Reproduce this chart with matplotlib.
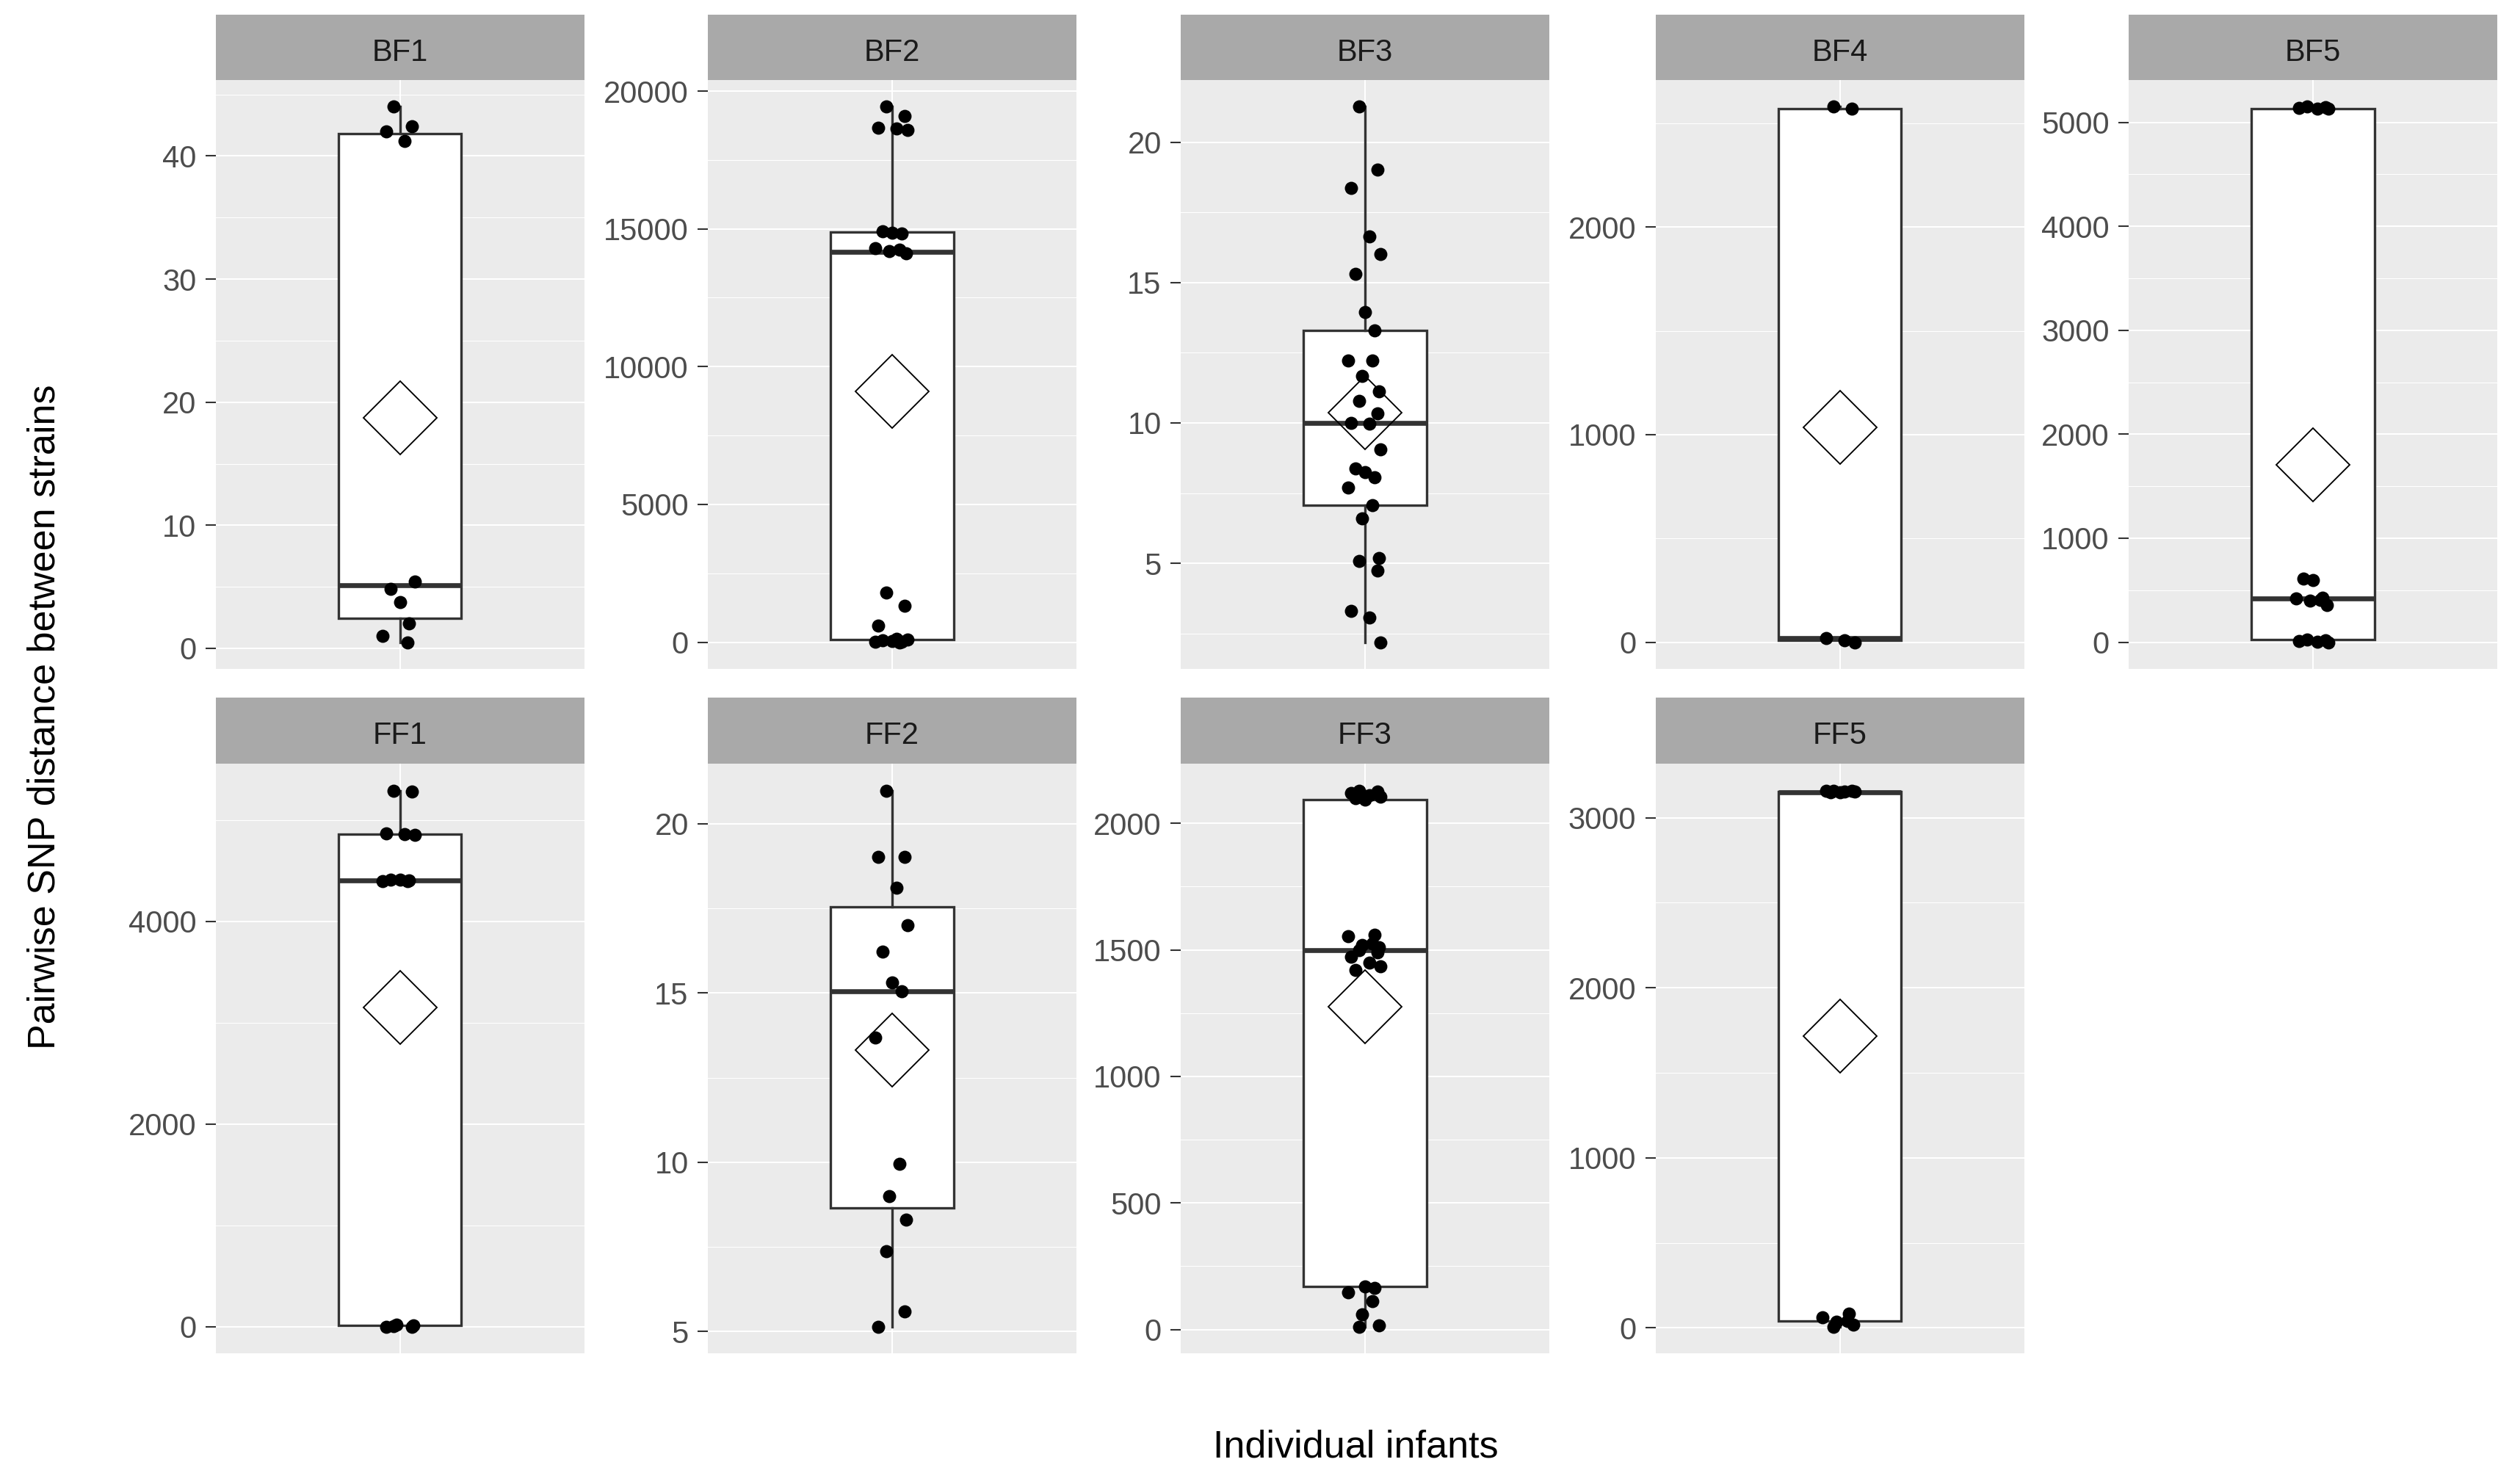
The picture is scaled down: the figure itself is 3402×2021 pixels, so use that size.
import numpy as np
import matplotlib.pyplot as plt
from matplotlib.ticker import FixedLocator, AutoMinorLocator

plt.rcParams['font.family'] = ['Liberation Sans', 'DejaVu Sans']

# pairwise SNP distances for each infant
bf1 = [44.0, 42.4, 42.0, 41.2, 5.4, 4.8, 3.75, 2.0, 1.0, 0.5]
bf2 = [19430, 19100, 18680, 18640, 18600, 14910, 14860, 14830, 14290, 14240,
       14200, 14120, 1800, 1330, 610, 130, 90, 60, 40, 20, 10, 0]
bf3 = [21.26, 19.01, 18.38, 16.63, 16.01, 15.30, 13.95, 13.30, 12.23, 12.23,
       11.67, 11.13, 10.79, 10.34, 10.0, 9.96, 9.05, 8.37, 8.24, 8.06, 7.71,
       7.08, 6.59, 5.18, 5.07, 4.73, 3.29, 3.06, 2.19]
bf4 = [2580, 2570, 20, 10, 0]
bf5 = [5150, 5145, 5141, 5135, 5130, 610, 600, 430, 420, 410, 400, 360,
       25, 15, 10, 5, 0]
ff1 = [5293, 5285, 4870, 4862, 4855, 4415, 4410, 4405, 4400, 4395,
       15, 10, 5, 0, 0]
ff2 = [20.98, 19.02, 19.02, 18.1, 17.0, 16.23, 15.3, 15.05, 13.69, 9.95,
       9.0, 8.3, 7.38, 5.6, 5.15]
ff3 = [2130, 2125, 2120, 2110, 2105, 2100, 2095,
       1560, 1555, 1525, 1520, 1510, 1500, 1490, 1474, 1450, 1435, 1422,
       170, 164, 147, 112, 60, 17, 12]
ff5 = [3160, 3158, 3157, 3155, 3152, 3150, 3148, 85, 60, 41, 35, 20, 8]

labels = ['BF1', 'BF2', 'BF3', 'BF4', 'BF5', 'FF1', 'FF2', 'FF3', 'FF5']
series = [bf1, bf2, bf3, bf4, bf5, ff1, ff2, ff3, ff5]
y_ticks = [
    [0, 10, 20, 30, 40],
    [0, 5000, 10000, 15000, 20000],
    [5, 10, 15, 20],
    [0, 1000, 2000],
    [0, 1000, 2000, 3000, 4000, 5000],
    [0, 2000, 4000],
    [5, 10, 15, 20],
    [0, 500, 1000, 1500, 2000],
    [0, 1000, 2000, 3000],
]

# fixed horizontal spread for the points
JITTER = [-0.02, 0.04, -0.045, 0.015, 0.05, -0.03, 0.0, 0.03, -0.055,
          0.025, -0.01, 0.045]

W, H = 3402, 2021
fig = plt.figure(figsize=(W / 300, H / 300), dpi=300)

col_left = [293.5, 964, 1608, 2254.5, 2899]
col_w = 502
rows = [(20, 109, 911), (950, 1040, 1843)]  # strip top, panel top, panel bottom

dark = '#333333'
for i, (lab, vals) in enumerate(zip(labels, series)):
    r, c = divmod(i, 5)
    s_top, p_top, p_bot = rows[r]
    x0 = col_left[c]

    ax = fig.add_axes([x0 / W, 1 - p_bot / H, col_w / W, (p_bot - p_top) / H])
    sax = fig.add_axes([x0 / W, 1 - p_top / H, col_w / W, (p_top - s_top) / H])
    sax.set_facecolor('#A9A9A9')
    sax.set_xticks([])
    sax.set_yticks([])
    for sp in sax.spines.values():
        sp.set_visible(False)
    sax.text(0.5, 0.42, lab, ha='center', va='center', fontsize=10,
             color='#1A1A1A', transform=sax.transAxes)

    vals = np.asarray(vals, dtype=float)
    ax.set_facecolor('#EBEBEB')
    for sp in ax.spines.values():
        sp.set_visible(False)

    ax.boxplot([vals], positions=[1], widths=0.4, whis=1.5, showfliers=False,
               showcaps=False, patch_artist=True,
               boxprops=dict(facecolor='white', edgecolor=dark, linewidth=0.8),
               medianprops=dict(color=dark, linewidth=1.6),
               whiskerprops=dict(color=dark, linewidth=0.8),
               zorder=2)
    ax.plot([1], [vals.mean()], marker='D', ms=17, mfc='none', mec='black',
            mew=0.45, ls='none', zorder=3)
    xs = 1 + np.array([JITTER[k % len(JITTER)] for k in range(len(vals))])
    ax.plot(xs, vals, 'o', color='black', ms=4.3, mew=0, ls='none', zorder=4)

    lo, hi = vals.min(), vals.max()
    pad = 0.05 * (hi - lo)
    ax.set_ylim(lo - pad, hi + pad)
    ax.set_xlim(0.4, 1.6)

    ax.yaxis.set_major_locator(FixedLocator(y_ticks[i]))
    ax.yaxis.set_minor_locator(AutoMinorLocator(2))
    ax.set_yticklabels([str(t) for t in y_ticks[i]])
    ax.set_xticks([1])
    ax.set_xticklabels([''])
    ax.tick_params(axis='x', length=0)
    ax.tick_params(axis='y', which='major', length=3.4, width=0.5, color=dark,
                   pad=2.9, labelsize=10, labelcolor='#4D4D4D')
    ax.tick_params(axis='y', which='minor', length=0)
    ax.grid(which='major', color='white', linewidth=0.5)
    ax.grid(which='minor', axis='y', color='white', linewidth=0.25)
    ax.set_axisbelow(True)

fig.text(1846 / W, 1 - 1971 / H, 'Individual infants', ha='center',
         va='center', fontsize=12.5, color='black')
fig.text(61 / W, 1 - 976 / H, 'Pairwise SNP distance between strains',
         ha='center', va='center', rotation=90, fontsize=12.5, color='black')

fig.savefig('out.png', dpi=300)
